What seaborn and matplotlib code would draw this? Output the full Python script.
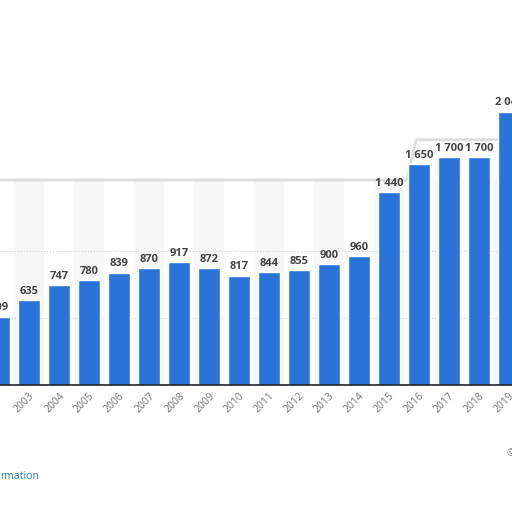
import matplotlib
matplotlib.use("Agg")
import matplotlib.pyplot as plt
import seaborn as sns
import pandas as pd

years = [str(y) for y in range(2002, 2020)]
values = [509, 635, 747, 780, 839, 870, 917, 872, 817, 844, 855, 900, 960,
          1440, 1650, 1700, 1700, 2040]

df = pd.DataFrame({"year": years, "value": values})

sns.set_style("white")
plt.rcParams['font.family'] = ['Open Sans', 'DejaVu Sans']

fig = plt.figure(figsize=(5.12, 5.12), dpi=100)
ax = fig.add_axes([0, 127 / 512, 1, 385 / 512])

# alternating column bands (only inside the panel)
for i in range(1, len(years), 2):
    ax.fill_between([i - 0.5, i + 0.5], 0, 1530, color="#f7f7f7", zorder=0, lw=0)

for v in [500, 1000]:
    ax.axhline(v, color="#cccccc", lw=0.7, ls=(0, (1, 2)), zorder=0.5)

# panel edge
ax.plot([-1, 13.6, 13.9, 18], [1530, 1530, 1830, 1830], color="#dddddd",
        lw=2, zorder=1, solid_joinstyle="round")

sns.barplot(data=df, x="year", y="value", color="#2a74d9", width=0.72,
            saturation=1, ax=ax, zorder=2)

for i, v in enumerate(values):
    ax.text(i, v + 25, f"{v:,}".replace(",", " "), ha="center", va="bottom",
            fontsize=8, fontweight="bold", color="#444444", zorder=3)

ax.set_xlim(0.033, 17.1)
ax.set_ylim(0, 2873)
ax.set_xlabel("")
ax.set_ylabel("")
ax.set_yticks([])
ax.tick_params(axis="x", labelsize=7.5, colors="#777777", length=0, pad=4)
plt.setp(ax.get_xticklabels(), rotation=45, ha="right", rotation_mode="anchor")
for s in ["top", "right", "left"]:
    ax.spines[s].set_visible(False)
ax.spines["bottom"].set_color("#222222")
ax.spines["bottom"].set_linewidth(1.2)

fig.text(0.0, 0.065, "rmation", fontsize=7.5, color="#2a7ab8")
fig.text(0.99, 0.11, "©", fontsize=7.5, color="#888888", ha="left")

fig.savefig("out.png", dpi=100)
